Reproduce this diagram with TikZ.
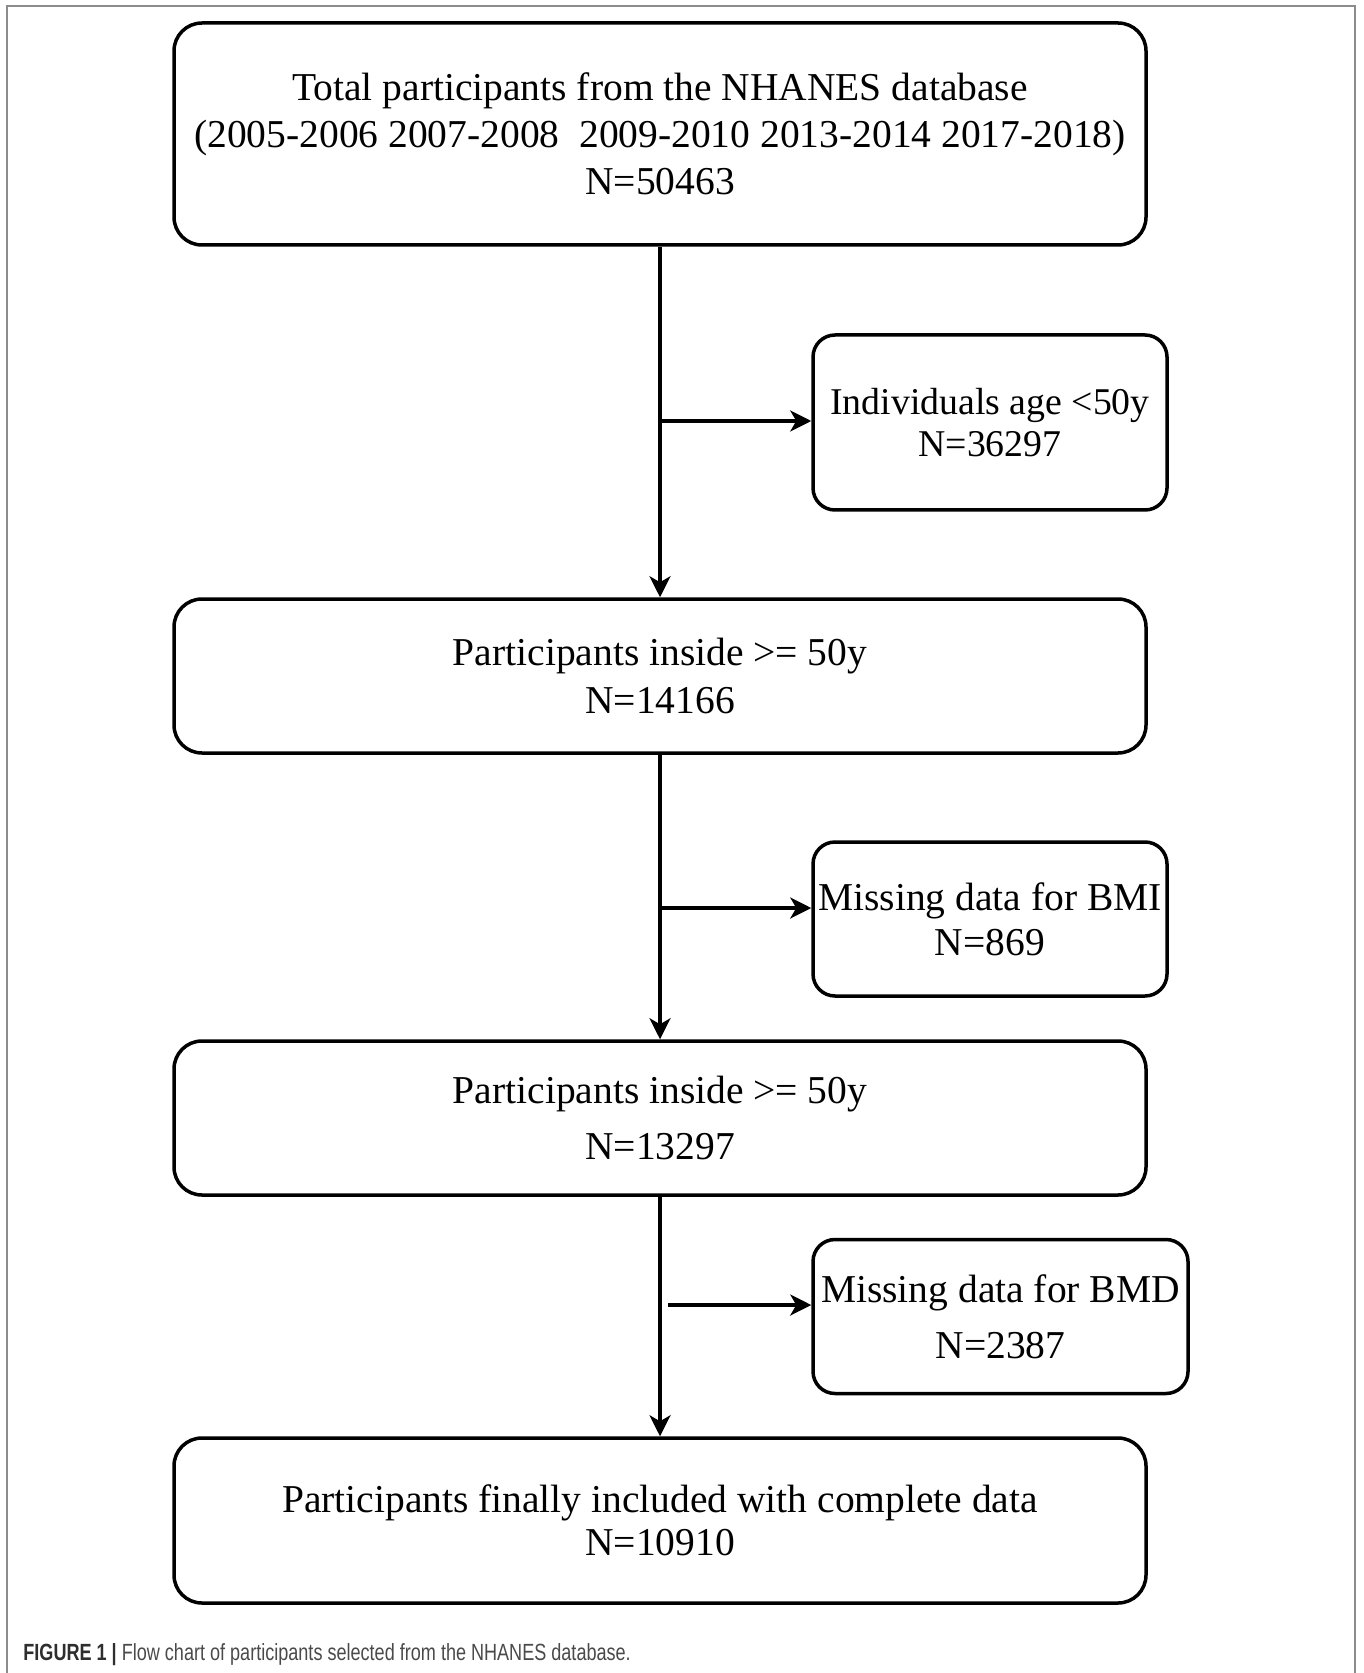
\documentclass[tikz,border=0pt]{standalone}
\usepackage{graphicx}
\usepackage{fontspec}
\setmainfont{Liberation Serif}
\newfontfamily\capfont{Liberation Sans}
\usetikzlibrary{arrows.meta}
\usepackage{xcolor}
\definecolor{framegray}{HTML}{8C8C8C}
\definecolor{capdark}{HTML}{2E2E2E}
\definecolor{capgray}{HTML}{4A4A4A}

\begin{document}
\begin{tikzpicture}[
  x=0.5pt, y=-0.5pt,
  stage/.style={draw=black, line width=1.75pt, rounded corners=14pt,
                minimum width=486pt, minimum height=77pt,
                align=center, inner sep=0pt,
                font=\fontsize{19.75pt}{23.5pt}\selectfont},
  excl/.style={stage, rounded corners=11pt, minimum width=177pt},
  arrow/.style={-{Stealth[length=10.5pt, width=10.5pt, inset=3pt]},
                line width=1.75pt},
]
  \useasboundingbox (0,0) rectangle (1363,1673);
  \draw[framegray, line width=1pt] (7,1673) -- (7,6) -- (1355,6) -- (1355,1673);

  \node[stage, minimum height=111pt] (total) at (660,134)
    {Total participants from the NHANES database\\
     (2005-2006 2007-2008\ \ 2009-2010 2013-2014 2017-2018)\\
     N=50463};
  \node[excl, minimum height=87.5pt, font=\fontsize{18.9pt}{23.5pt}\selectfont]
    (age) at (990,422.5)
    {Individuals age <50y\\[-2.5pt]N=36297};
  \node[stage] (incla) at (660,676)
    {Participants inside >= 50y\\[0.5pt]N=14166};
  \node[excl]  (bmi)   at (990,919)
    {Missing data for BMI\\[-1pt]N=869};
  \node[stage] (inclb) at (660,1118)
    {Participants inside >= 50y\\[4.5pt]N=13297};
  \node[excl, minimum width=187.5pt] (bmd) at (1000.5,1316.5)
    {Missing data for BMD\\[4.5pt]N=2387};
  \node[stage, minimum height=82.5pt] (final) at (660,1520.5)
    {Participants finally included with complete data\\[-2pt]N=10910};

  \coordinate (bra) at (660,421);
  \coordinate (brb) at (660,908);
  \coordinate (brc) at (668,1305);

  \draw[arrow] (total) -- (incla);
  \draw[arrow] (incla) -- (inclb);
  \draw[arrow] (inclb) -- (final);
  \draw[arrow] (bra) -- (bra -| age.west);
  \draw[arrow] (brb) -- (brb -| bmi.west);
  \draw[arrow] (brc) -- (brc -| bmd.west);

  \node[anchor=base west, inner sep=0pt, font=\capfont\fontsize{11.15pt}{13pt}\selectfont]
    (caption) at (23,1660)
    {\scalebox{0.81}[1.05]{\textcolor{capdark}{\bfseries FIGURE 1 |}
     \textcolor{capgray}{Flow chart of participants selected from the NHANES database.}}};
\end{tikzpicture}
\end{document}
